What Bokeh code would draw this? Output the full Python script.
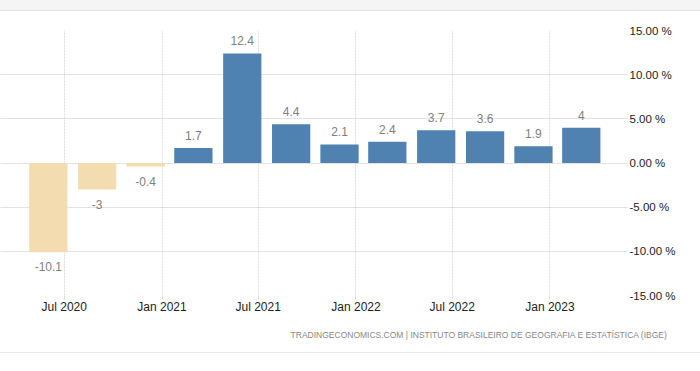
import pandas as pd
from bokeh.plotting import figure
from bokeh.models import ColumnDataSource, Range1d, FixedTicker, Title
from bokeh.core.properties import value
from bokeh.embed import file_html
from bokeh.resources import INLINE

# ---- data ----
quarters = ["2020-06-01", "2020-09-01", "2020-12-01", "2021-03-01", "2021-06-01", "2021-09-01",
            "2021-12-01", "2022-03-01", "2022-06-01", "2022-09-01", "2022-12-01", "2023-03-01"]
growth = [-10.1, -3.0, -0.4, 1.7, 12.4, 4.4, 2.1, 2.4, 3.7, 3.6, 1.9, 4.0]
x_tick_dates = ["2020-07-01", "2021-01-01", "2021-07-01", "2022-01-01", "2022-07-01", "2023-01-01"]
x_tick_labels = ["Jul 2020", "Jan 2021", "Jul 2021", "Jan 2022", "Jul 2022", "Jan 2023"]
y_ticks = [-15, -10, -5, 0, 5, 10, 15]
y_tick_labels = ["-15.00 %", "-10.00 %", "-5.00 %", "0.00 %", "5.00 %", "10.00 %", "15.00 %"]
source_text = "TRADINGECONOMICS.COM  |  INSTITUTO BRASILEIRO DE GEOGRAFIA E ESTATÍSTICA (IBGE)"

DAY = 86400000


def to_ms(ds):
    return [int(pd.Timestamp(d).value // 10**6) for d in ds]


xs = to_ms(quarters)
xt = to_ms(x_tick_dates)

BLUE = "#4f81b1"
SAND = "#f3ddb0"
colors = [BLUE if v >= 0 else SAND for v in growth]
labels = [f"{v:g}" for v in growth]

src = ColumnDataSource(dict(x=xs, top=growth, color=colors, label=labels))
pos = ColumnDataSource(dict(x=[x for x, v in zip(xs, growth) if v >= 0],
                            y=[v for v in growth if v >= 0],
                            label=[l for l, v in zip(labels, growth) if v >= 0]))
neg = ColumnDataSource(dict(x=[x for x, v in zip(xs, growth) if v < 0],
                            y=[v for v in growth if v < 0],
                            label=[l for l, v in zip(labels, growth) if v < 0]))

x_start = to_ms(["2020-03-03"])[0]
x_end = to_ms(["2023-05-27"])[0]

p = figure(width=700, height=353,
           x_range=Range1d(x_start, x_end), y_range=Range1d(-15, 15),
           y_axis_location="right",
           output_backend="svg", toolbar_location=None,
           min_border_left=0, min_border_top=30, min_border_bottom=58, min_border_right=73)
p.styles = {"box-shadow": "inset 0 10px 0 0 #f5f5f5, inset 0 11px 0 0 #e2e2e2, "
                          "inset 0 -1px 0 0 #ebebeb",
            "background": "white"}
p.outline_line_color = None
p.background_fill_color = "white"
p.border_fill_color = None

p.vbar(x="x", top="top", bottom=0, width=72 * DAY, source=src,
       fill_color="color", line_color=None)

p.text(x="x", y="y", text="label", source=pos, text_align="center", text_baseline="bottom",
       y_offset=-8, text_font=value("Liberation Sans"), text_font_size="12px", text_color="#808080")
p.text(x="x", y="y", text="label", source=neg, text_align="center", text_baseline="top",
       y_offset=10, text_font=value("Liberation Sans"), text_font_size="12px", text_color="#808080")

# x axis
xa = p.xaxis[0]
xa.ticker = FixedTicker(ticks=xt)
xa.major_label_overrides = {t: l for t, l in zip(xt, x_tick_labels)}
xa.minor_tick_line_color = None
xa.axis_line_color = None
xa.major_tick_line_color = "#dddddd"
xa.major_tick_out = 4
xa.major_tick_in = 0
xa.major_label_standoff = 0
xa.major_label_text_font = "Liberation Sans"
xa.major_label_text_font_size = "12px"
xa.major_label_text_color = "#222222"

# y axis (right)
ya = p.yaxis[0]
ya.ticker = FixedTicker(ticks=y_ticks)
ya.major_label_overrides = {t: l for t, l in zip(y_ticks, y_tick_labels)}
ya.minor_tick_line_color = None
ya.axis_line_color = None
ya.major_tick_line_color = None
ya.major_tick_out = 0
ya.major_tick_in = 0
ya.major_label_standoff = 2
ya.major_label_text_font = "Liberation Sans"
ya.major_label_text_font_size = "11.5px"
ya.major_label_text_color = "#222222"

p.xgrid.ticker = FixedTicker(ticks=xt)
p.xgrid.grid_line_color = "#dedede"
p.xgrid.grid_line_dash = "2 1"
p.ygrid.ticker = FixedTicker(ticks=y_ticks)
p.ygrid.grid_line_color = "#c4c4c4"
p.ygrid.grid_line_dash = "1 1"

p.add_layout(Title(text=source_text, align="right", offset=-45, standoff=23,
                   text_font="Liberation Sans", text_font_size="8.5px",
                   text_font_style="normal", text_color="#888888"), "below")

open("out.html", "w").write(file_html(p, INLINE))
